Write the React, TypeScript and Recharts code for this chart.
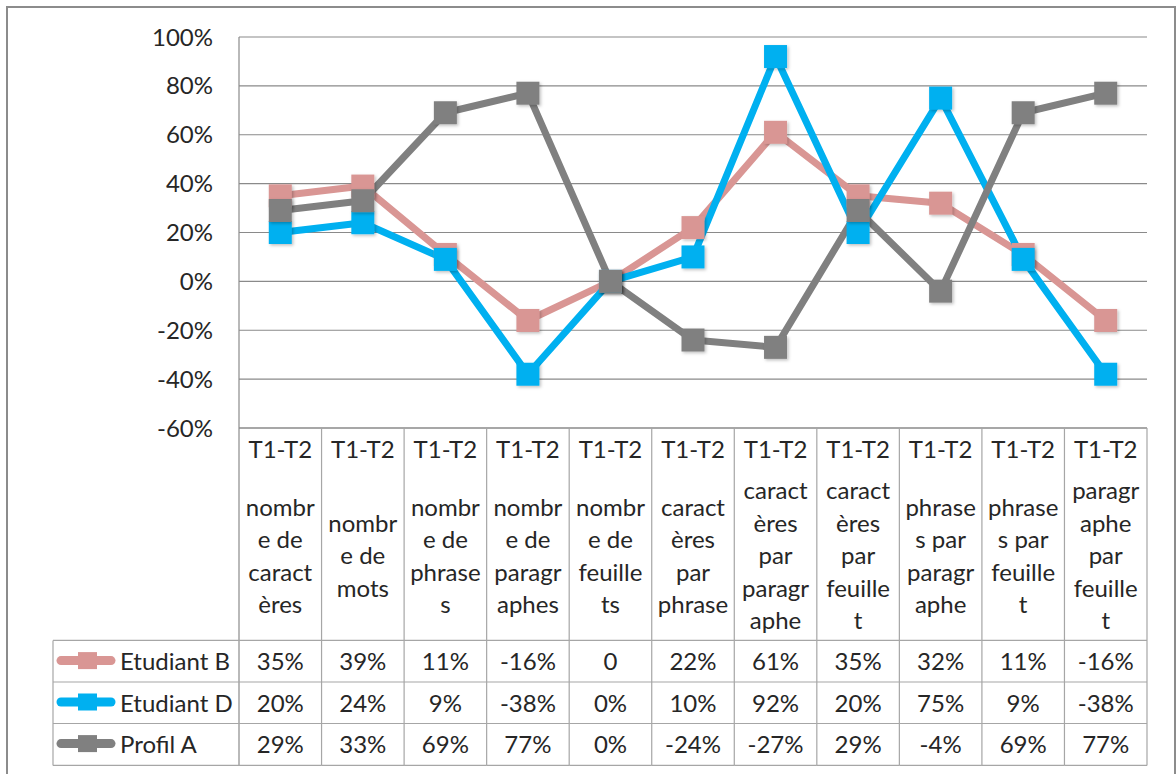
import React from 'react';
import { LineChart, Line, XAxis, YAxis, CartesianGrid } from 'recharts';

// ---------- data ----------
const categoryTop = 'T1-T2';
const categoryLines: string[][] = [
  ['nombr', 'e de', 'caract', 'ères'],
  ['nombr', 'e de', 'mots'],
  ['nombr', 'e de', 'phrase', 's'],
  ['nombr', 'e de', 'paragr', 'aphes'],
  ['nombr', 'e de', 'feuille', 'ts'],
  ['caract', 'ères', 'par', 'phrase'],
  ['caract', 'ères', 'par', 'paragr', 'aphe'],
  ['caract', 'ères', 'par', 'feuille', 't'],
  ['phrase', 's par', 'paragr', 'aphe'],
  ['phrase', 's par', 'feuille', 't'],
  ['paragr', 'aphe', 'par', 'feuille', 't'],
];
const etudiantB = [0.35, 0.39, 0.11, -0.16, 0, 0.22, 0.61, 0.35, 0.32, 0.11, -0.16];
const etudiantD = [0.2, 0.24, 0.09, -0.38, 0, 0.1, 0.92, 0.2, 0.75, 0.09, -0.38];
const profilA = [0.29, 0.33, 0.69, 0.77, 0, -0.24, -0.27, 0.29, -0.04, 0.69, 0.77];
// Etudiant B's "nombre de feuillets" cell is shown in General format ("0")
const etudiantBGeneralFormatIndex = [4];
const yTicks = [-0.6, -0.4, -0.2, 0, 0.2, 0.4, 0.6, 0.8, 1.0];

const seriesNames = ['Etudiant B', 'Etudiant D', 'Profil A'];
const seriesColors = ['#D99694', '#00B0F0', '#808080'];
const seriesValues = [etudiantB, etudiantD, profilA];

const data = categoryLines.map((lines, i) => ({
  name: categoryTop + ' ' + lines.join(''),
  b: etudiantB[i],
  d: etudiantD[i],
  a: profilA[i],
}));

// ---------- styles ----------
const FONT = 'Lato, "Open Sans", sans-serif';
const TEXT = '#262626';
const GRID = '#8a8a8a';
const TABLE = '#a6a6a6';
const FS = 24;
const HALF = 41.28;
const MS = 23;

const pct = (v: number) => `${Math.round(v * 100)}%`;
const cellText = (s: number, i: number) => {
  const v = seriesValues[s][i];
  if (s === 0 && etudiantBGeneralFormatIndex.includes(i)) return String(v);
  return pct(v);
};

const squareDot = (color: string) => (props: any) => {
  const { cx, cy, index } = props;
  if (cx == null || cy == null) return <g key={index} />;
  return <rect key={index} x={cx - MS / 2} y={cy - MS / 2} width={MS} height={MS} fill={color} filter="url(#mshadow)" />;
};

const rowTops = [212.4, 254, 295.5, 337.4];
const rowCenters = [232.6, 274, 315.6];

const TableTick = (props: any) => {
  const { x, y, index } = props;
  const left = x - HALF;
  const right = x + HALF;
  const lines = categoryLines[index] || [];
  const lh = 32.5;
  const start = y + 126.8 - ((lines.length - 1) * lh) / 2;
  const legendLeft = 53;
  return (
    <g>
      <line x1={right} y1={y} x2={right} y2={y + rowTops[3]} stroke={TABLE} strokeWidth={1.2} />
      {index === 0 && <line x1={left} y1={y} x2={left} y2={y + rowTops[3]} stroke={GRID} strokeWidth={1.2} />}
      {rowTops.map((t, k) => (
        <line key={k} x1={left} y1={y + t} x2={right} y2={y + t} stroke={TABLE} strokeWidth={1.2} />
      ))}
      <text x={x} y={y + 20} textAnchor="middle" dominantBaseline="central" fontSize={FS} fill={TEXT} fontFamily={FONT}>
        {categoryTop}
      </text>
      {lines.map((ln, k) => (
        <text key={k} x={x} y={start + k * lh} textAnchor="middle" dominantBaseline="central" fontSize={FS} fill={TEXT} fontFamily={FONT}>
          {ln}
        </text>
      ))}
      {rowCenters.map((c, s) => (
        <text key={'v' + s} x={x} y={y + c} textAnchor="middle" dominantBaseline="central" fontSize={FS} fill={TEXT} fontFamily={FONT}>
          {cellText(s, index)}
        </text>
      ))}
      {index === 0 && (
        <g>
          <line x1={legendLeft} y1={y + rowTops[0]} x2={legendLeft} y2={y + rowTops[3]} stroke={TABLE} strokeWidth={1.2} />
          {rowTops.map((t, k) => (
            <line key={'l' + k} x1={legendLeft} y1={y + t} x2={left} y2={y + t} stroke={TABLE} strokeWidth={1.2} />
          ))}
          {rowCenters.map((c, s) => (
            <g key={'lg' + s}>
              <line x1={61} y1={y + c} x2={111} y2={y + c} stroke={seriesColors[s]} strokeWidth={9} strokeLinecap="round" />
              <rect x={78} y={y + c - 8.5} width={19} height={17} fill={seriesColors[s]} />
              <text x={120} y={y + c} textAnchor="start" dominantBaseline="central" fontSize={FS} fill={TEXT} fontFamily={FONT}>
                {seriesNames[s]}
              </text>
            </g>
          ))}
        </g>
      )}
    </g>
  );
};

export default function App() {
  return (
    <div style={{ position: 'absolute', left: 0, top: 0, width: 1176, height: 774, overflow: 'hidden', background: '#fff' }}>
      <div
        style={{
          position: 'absolute',
          left: 6,
          top: 6,
          width: 1166,
          height: 800,
          border: '2px solid #8c8c8c',
          pointerEvents: 'none',
          zIndex: 2,
        }}
      />
      <LineChart
        width={1176}
        height={774}
        data={data}
        margin={{ top: 37, right: 29, left: 179, bottom: 6 }}
      >
        <defs>
          <filter id="mshadow" x="-50%" y="-50%" width="200%" height="200%">
            <feDropShadow dx="1.5" dy="1.5" stdDeviation="1.5" floodColor="#000" floodOpacity="0.25" />
          </filter>
        </defs>
        <CartesianGrid vertical={false} stroke={GRID} strokeWidth={1.2} />
        <XAxis
          dataKey="name"
          interval={0}
          height={340}
          tickLine={false}
          tickSize={0}
          tickMargin={0}
          axisLine={{ stroke: GRID, strokeWidth: 1.2 }}
          padding={{ left: HALF, right: HALF }}
          tick={<TableTick />}
        />
        <YAxis
          width={60}
          domain={[-0.6, 1.0]}
          ticks={yTicks}
          tickFormatter={pct}
          tickLine={false}
          tickSize={0}
          tickMargin={26}
          axisLine={{ stroke: GRID, strokeWidth: 1.2 }}
          tick={{ fontSize: FS, fill: TEXT, fontFamily: FONT }}
        />
        {['b', 'd', 'a'].map((k, s) => (
          <Line
            key={k}
            dataKey={k}
            name={seriesNames[s]}
            type="linear"
            stroke={seriesColors[s]}
            strokeWidth={7}
            strokeLinejoin="round"
            dot={squareDot(seriesColors[s])}
            activeDot={false}
            isAnimationActive={false}
          />
        ))}
      </LineChart>
    </div>
  );
}
